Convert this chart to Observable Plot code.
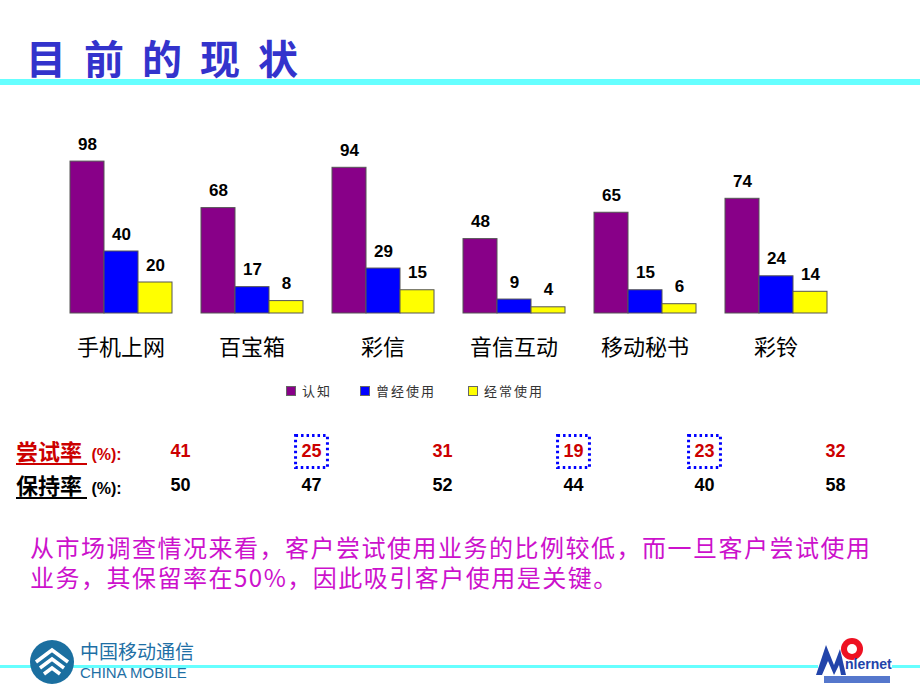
<!DOCTYPE html>
<html><head><meta charset="utf-8">
<script src="https://cdn.jsdelivr.net/npm/d3@7"></script>
<script src="https://cdn.jsdelivr.net/npm/@observablehq/plot@0.6"></script>
<style>
body{margin:0;background:#fff;}
#slide{position:relative;width:920px;height:690px;overflow:hidden;background:#fff;font-family:Arial,"Liberation Sans","Noto Sans CJK SC",sans-serif;}
.abs{position:absolute;}
#title{left:26px;top:32px;font:bold 40px "Noto Sans CJK SC",sans-serif;letter-spacing:18px;color:#3333CC;line-height:50px;white-space:nowrap;}
#rule1{left:0;top:79px;width:920px;height:6px;background:#66FFFF;}
#chart{left:0;top:100px;}
#legend{left:0;top:381px;width:920px;height:20px;font:13px "Noto Sans CJK SC",sans-serif;color:#333;letter-spacing:2px;}
#legend .item{position:absolute;top:0;line-height:20px;white-space:nowrap;}
#legend .sw{display:inline-block;width:8px;height:8px;border:1px solid #666;margin-right:6px;vertical-align:middle;position:relative;top:-1px;}
#table{left:0;top:430px;}
.rowlab{position:absolute;left:16px;white-space:nowrap;font-weight:bold;line-height:32px;}
.rowlab .w{font:bold 22px "Noto Sans CJK SC",sans-serif;text-decoration:underline;text-decoration-thickness:2px;text-underline-offset:3px;}
.rowlab .p{font:bold 16px Arial,"Liberation Sans",sans-serif;}
.para{position:absolute;left:30px;font:24px "Noto Sans CJK SC",sans-serif;letter-spacing:1.5px;line-height:30px;height:30px;color:#CC11CC;white-space:nowrap;}
#rule2a{left:0;top:665px;width:818px;height:3px;background:#66FFFF;}
#rule2b{left:892px;top:665px;width:28px;height:3px;background:#66FFFF;}
#cmtext{left:80px;top:640px;font:19px "Noto Sans CJK SC",sans-serif;color:#1E6FA5;white-space:nowrap;line-height:22px;}
#cmen{left:80px;top:664px;font:15px Arial,"Liberation Sans",sans-serif;color:#1E6FA5;white-space:nowrap;line-height:17px;}
</style></head>
<body><div id="slide">
<div id="title" class="abs">目前的现状</div>
<div id="rule1" class="abs"></div>
<div id="chart" class="abs"></div>
<div id="legend" class="abs"></div>
<div id="table" class="abs"></div>
<div class="rowlab" style="top:434px;color:#CC0000;"><span class="w">尝试率&nbsp;</span> <span class="p">(%):</span></div>
<div class="rowlab" style="top:468px;color:#000;"><span class="w">保持率&nbsp;</span> <span class="p">(%):</span></div>
<div class="para" style="top:532px">从市场调查情况来看，客户尝试使用业务的比例较低，而一旦客户尝试使用</div>
<div class="para" style="top:562px">业务，其保留率在50%，因此吸引客户使用是关键。</div>
<div id="cmen" class="abs">CHINA MOBILE</div>
<div id="rule2a" class="abs"></div>
<div id="rule2b" class="abs"></div>
<svg class="abs" style="left:28px;top:638px" width="48" height="48" viewBox="0 0 48 48">
  <circle cx="24" cy="24" r="22" fill="#1B6FA0"/>
  <path d="M8 24 L24 12 L40 24 M12 30 L24 21 L36 30 M16 36 L24 30 L32 36" stroke="#fff" stroke-width="3.5" fill="none"/>
</svg>
<div id="cmtext" class="abs">中国移动通信</div>
<svg class="abs" style="left:812px;top:635px" width="82" height="52" viewBox="0 0 82 52">
  <path d="M4 40 L14 10 L22 30 L28 14 L34 40 L29 40 L27 30 L22 40 L16 26 L10 40 Z" fill="#2244AA"/>
  <circle cx="40" cy="14" r="11" fill="#EE1122"/>
  <circle cx="40" cy="14" r="5" fill="#fff"/>
  <text x="33" y="34" font-family="Arial" font-weight="bold" font-size="14" fill="#2244AA">nlernet</text>
  <rect x="12" y="41" width="66" height="7" fill="#5577CC"/>
</svg>
<script>
// ---- data ----
const categories = ["手机上网", "百宝箱", "彩信", "音信互动", "移动秘书", "彩铃"];
const series = ["认知", "曾经使用", "经常使用"];
const awareness = [98, 68, 94, 48, 65, 74];
const everUsed = [40, 17, 29, 9, 15, 24];
const oftenUsed = [20, 8, 15, 4, 6, 14];
const trialRate = [41, 25, 31, 19, 23, 32];
const retentionRate = [50, 47, 52, 44, 40, 58];
const highlighted = [false, true, false, true, true, false];
const seriesColors = ["#880088", "#0000FF", "#FFFF00"];
const rowNames = ["尝试率", "保持率"];

const seriesValues = [awareness, everUsed, oftenUsed];
const barData = categories.flatMap((c, i) => series.map((s, j) => ({category: c, series: s, value: seriesValues[j][i]})));

const chart = Plot.plot({
  width: 920, height: 270,
  marginLeft: 68, marginRight: 91.5, marginTop: 58, marginBottom: 57,
  fx: {domain: categories, paddingInner: 0.217, paddingOuter: 0, label: null, axis: "bottom", tickSize: 0, tickPadding: 26},
  x: {domain: series, padding: 0, axis: null},
  y: {domain: [0, 100], axis: null},
  color: {domain: series, range: seriesColors},
  style: {fontSize: "22px", fontFamily: "'Noto Sans CJK SC', sans-serif", color: "#000", background: "transparent", overflow: "visible"},
  marks: [
    Plot.barY(barData, {fx: "category", x: "series", y: "value", fill: "series", stroke: "#555", strokeWidth: 1}),
    Plot.text(barData, {fx: "category", x: "series", y: "value", text: d => String(d.value), dy: -12, lineAnchor: "bottom", fontSize: 17, fontWeight: "bold", fontFamily: "Arial, 'Liberation Sans', sans-serif", fill: "#000"})
  ]
});
document.getElementById("chart").appendChild(chart);

// legend
const legendX = [286, 360, 468];
const legend = document.getElementById("legend");
series.forEach((s, j) => {
  const it = document.createElement("div");
  it.className = "item";
  it.style.left = legendX[j] + "px";
  it.innerHTML = `<span class="sw" style="background:${seriesColors[j]}"></span>${s}`;
  legend.appendChild(it);
});

// table rows
const tableData = categories.flatMap((c, i) => [
  {category: c, row: rowNames[0], value: trialRate[i], hl: highlighted[i]},
  {category: c, row: rowNames[1], value: retentionRate[i], hl: false}
]);
const table = Plot.plot({
  width: 920, height: 70,
  margin: 0,
  x: {domain: categories, type: "point", range: [178, 836], padding: 0, axis: null},
  y: {domain: rowNames, type: "point", range: [21, 55], padding: 0, axis: null},
  style: {background: "transparent", overflow: "visible"},
  marks: [
    Plot.dot(tableData.filter(d => d.hl), {x: "category", y: "row", symbol: "square", r: 18, stroke: "#0000FF", strokeWidth: 3, strokeDasharray: "2.5,3", fill: "none"}),
    Plot.text(tableData, {x: "category", y: "row", text: d => String(d.value), fontSize: 18, fontWeight: "bold", fontFamily: "Arial, 'Liberation Sans', sans-serif", fill: d => d.row === rowNames[0] ? "#CC0000" : "#000"})
  ]
});
document.getElementById("table").appendChild(table);
</script>
</div></body></html>
